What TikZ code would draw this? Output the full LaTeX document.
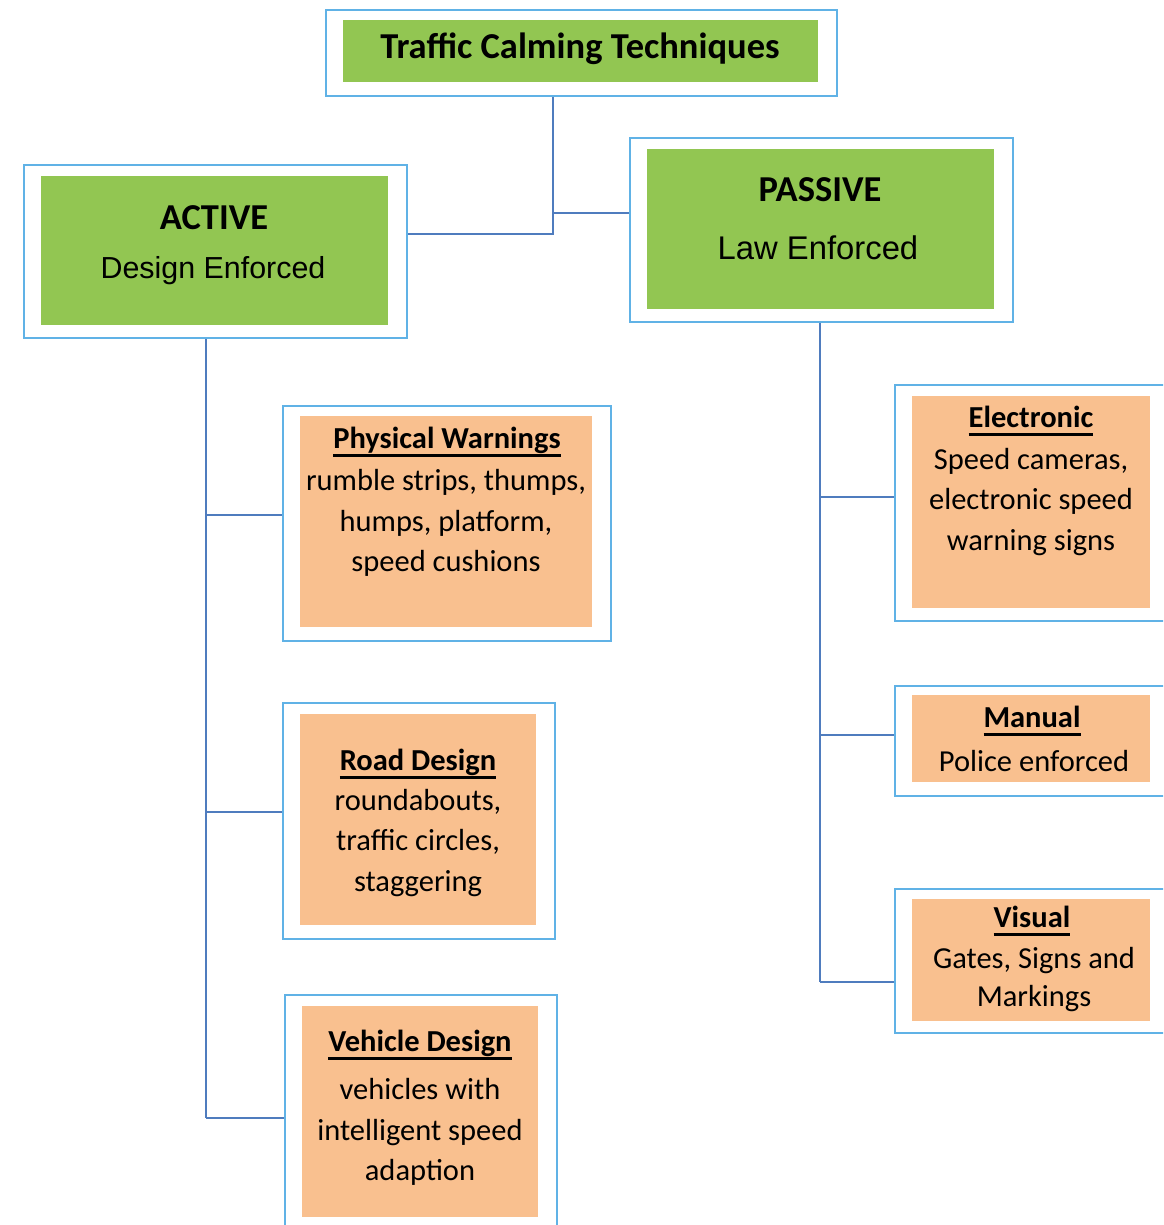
\documentclass[tikz,border=0pt]{standalone}
\usepackage{fontspec}
\setmainfont{Carlito}
\newfontfamily\arialf{Liberation Sans}
\definecolor{gfill}{RGB}{146,198,82}
\definecolor{ofill}{RGB}{249,192,143}
\definecolor{bord}{RGB}{96,178,230}
\definecolor{lnk}{RGB}{79,124,190}
\newcommand{\ulin}[1]{\setbox0=\hbox{#1}\rlap{\rule[-8pt]{\wd0}{3pt}}\box0}
\tikzset{
  obox/.style={draw=bord, line width=2.2pt, fill=white, inner sep=0pt, anchor=north west},
  gbox/.style={fill=gfill, inner sep=0pt, anchor=north west},
  orbox/.style={fill=ofill, inner sep=0pt, anchor=north west},
  conn/.style={draw=lnk, line width=1.8pt},
  connb/.style={draw=lnk, line width=2.6pt},
  ttl/.style={inner sep=0pt, font=\fontsize{30.5}{36}\selectfont\bfseries},
  body/.style={inner sep=0pt, align=center, font=\fontsize{30.5}{40.5}\selectfont},
  head/.style={inner sep=0pt, font=\fontsize{36.5}{42}\selectfont\bfseries},
}
\begin{document}
\begin{tikzpicture}[x=1pt,y=-1pt]
\useasboundingbox (0,0) rectangle (1163,1225);
\clip (0,0) rectangle (1163,1225);
\fill[white] (0,0) rectangle (1163,1225);
% boxes
\node[obox, minimum width=511, minimum height=86] (topo) at (325,9) {};
\node[gbox, minimum width=475, minimum height=62] (topi) at (343,20) {};
\node[obox, minimum width=383, minimum height=173] (acto) at (23,164) {};
\node[gbox, minimum width=347, minimum height=149] (acti) at (41,176) {};
\node[obox, minimum width=383, minimum height=184] (paso) at (629,137) {};
\node[gbox, minimum width=347, minimum height=160] (pasi) at (647,149) {};
\node[obox, minimum width=328, minimum height=235] (phyo) at (282,405) {};
\node[orbox, minimum width=292, minimum height=211] (phyi) at (300,416) {};
\node[obox, minimum width=272, minimum height=236] (roao) at (282,702) {};
\node[orbox, minimum width=236, minimum height=211] (roai) at (300,714) {};
\node[obox, minimum width=272, minimum height=246] (veho) at (284,994) {};
\node[orbox, minimum width=236, minimum height=211] (vehi) at (302,1006) {};
\node[obox, minimum width=278, minimum height=236] (eleo) at (894,384) {};
\node[orbox, minimum width=238, minimum height=212] (elei) at (912,396) {};
\node[obox, minimum width=278, minimum height=110] (mano) at (894,685) {};
\node[orbox, minimum width=238, minimum height=87] (mani) at (912,695) {};
\node[obox, minimum width=278, minimum height=144] (viso) at (894,888) {};
\node[orbox, minimum width=238, minimum height=122] (visi) at (912,899) {};
% texts
\node[head] (toptx) at (580,49) {Traffic Calming Techniques};
\node[head] (acttx) at (214,218) {ACTIVE};
\node[inner sep=0pt, font=\arialf\fontsize{30.4}{36}\selectfont] (actsub) at (213,271) {Design Enforced};
\node[head] (pastx) at (820,190) {PASSIVE};
\node[inner sep=0pt, font=\arialf\fontsize{32.8}{38}\selectfont] (passub) at (818,248) {Law Enforced};
\node[ttl] (phyt) at (447,442) {\ulin{Physical Warnings}};
\node[body] (phyb) at (446,523) {rumble strips, thumps,\\humps, platform,\\speed cushions};
\node[ttl] (roat) at (418,764) {\ulin{Road Design}};
\node[body] (roab) at (418,843) {roundabouts,\\traffic circles,\\staggering};
\node[ttl] (veht) at (420,1045) {\ulin{Vehicle Design}};
\node[body] (vehb) at (420,1132) {vehicles with\\intelligent speed\\adaption};
\node[ttl] (elet) at (1031,421) {\ulin{Electronic}};
\node[body] (eleb) at (1031,502) {Speed cameras,\\electronic speed\\warning signs};
\node[ttl] (mant) at (1032,721) {\ulin{Manual}};
\node[body] (manb) at (1034,761) {Police enforced};
\node[ttl] (vist) at (1032,921) {\ulin{Visual}};
\node[body, font=\fontsize{30.5}{38}\selectfont] (visb) at (1034,980) {Gates, Signs and\\Markings};
% connectors
\coordinate (tj) at (553,213);
\coordinate (tk) at (553,234);
\draw[conn] (tk |- topo.south) -- (tk) -- (tk -| acto.east);
\draw[conn] (tj) -- (tj -| paso.west);
\coordinate (aj1) at (206,515);
\coordinate (aj2) at (206,812);
\coordinate (aj3) at (206,1118);
\draw[conn] (aj1 |- acto.south) -- (aj3);
\draw[conn] (aj1) -- (aj1 -| phyo.west);
\draw[conn] (aj2) -- (aj2 -| roao.west);
\draw[connb] (aj3) -- (aj3 -| veho.west);
\coordinate (pj1) at (820,497);
\coordinate (pj2) at (820,735);
\coordinate (pj3) at (820,982);
\draw[conn] (pj1 |- paso.south) -- (pj3);
\draw[connb] (pj1) -- (pj1 -| eleo.west);
\draw[connb] (pj2) -- (pj2 -| mano.west);
\draw[connb] (pj3) -- (pj3 -| viso.west);
\end{tikzpicture}
\end{document}
